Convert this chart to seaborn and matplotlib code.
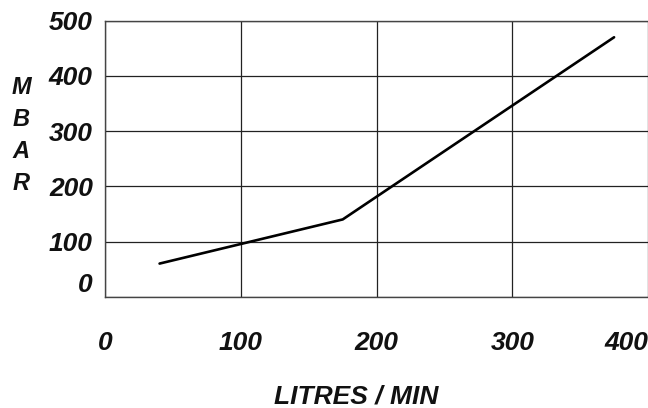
import pandas as pd
import matplotlib
matplotlib.use("Agg")
import matplotlib.pyplot as plt
import seaborn as sns

# flow vs pressure curve
flow_lpm = [40, 175, 375]
pressure_mbar = [60, 140, 470]
x_ticks = [0, 100, 200, 300, 400]
y_ticks = [0, 100, 200, 300, 400, 500]

df = pd.DataFrame({"flow": flow_lpm, "mbar": pressure_mbar})

sns.set_style("white")
plt.rcParams["font.family"] = ["Liberation Sans", "DejaVu Sans"]
plt.rcParams["text.color"] = "#111111"
plt.rcParams["xtick.color"] = "#111111"
plt.rcParams["ytick.color"] = "#111111"
plt.rcParams["axes.labelcolor"] = "#111111"

W, H = 648, 408
fig = plt.figure(figsize=(W / 100, H / 100), dpi=100)
ax = fig.add_axes([105.3 / W, 1 - 296.7 / H, (648 - 105.3) / W, (296.7 - 20.7) / H])

sns.lineplot(data=df, x="flow", y="mbar", ax=ax, color="black", linewidth=1.9)

ax.set_xlim(0, 400)
ax.set_ylim(0, 500)
ax.set_xticks(x_ticks)
ax.set_yticks(y_ticks)
ax.grid(True, color="#222222", linewidth=0.9)

tick_font = dict(fontsize=19, fontweight="bold", fontstyle="italic")
ax.set_xticklabels([str(t) for t in x_ticks], **tick_font)
ax.set_yticklabels([str(t) for t in y_ticks], **tick_font)
ax.get_xticklabels()[-1].set_horizontalalignment("right")
ax.get_yticklabels()[0].set_verticalalignment("bottom")
ax.tick_params(axis="x", length=0, pad=25)
ax.tick_params(axis="y", length=0, pad=9)

for side in ["left", "bottom", "top"]:
    ax.spines[side].set_color("#444444")
    ax.spines[side].set_linewidth(1.0)
ax.spines["right"].set_visible(False)

ax.set_xlabel("LITRES / MIN", fontsize=19, fontweight="bold", fontstyle="italic")
ax.xaxis.set_label_coords((356 - 105.3) / (648 - 105.3), -(384 - 296.7) / (296.7 - 20.7))
ax.set_ylabel("M\nB\nA\nR", rotation=0, fontsize=17, fontweight="bold",
              fontstyle="italic", linespacing=1.5, va="center", ha="center")
ax.yaxis.set_label_coords((21 - 105.3) / (648 - 105.3), (296.7 - 136) / (296.7 - 20.7))

fig.savefig("out.png", dpi=100)
